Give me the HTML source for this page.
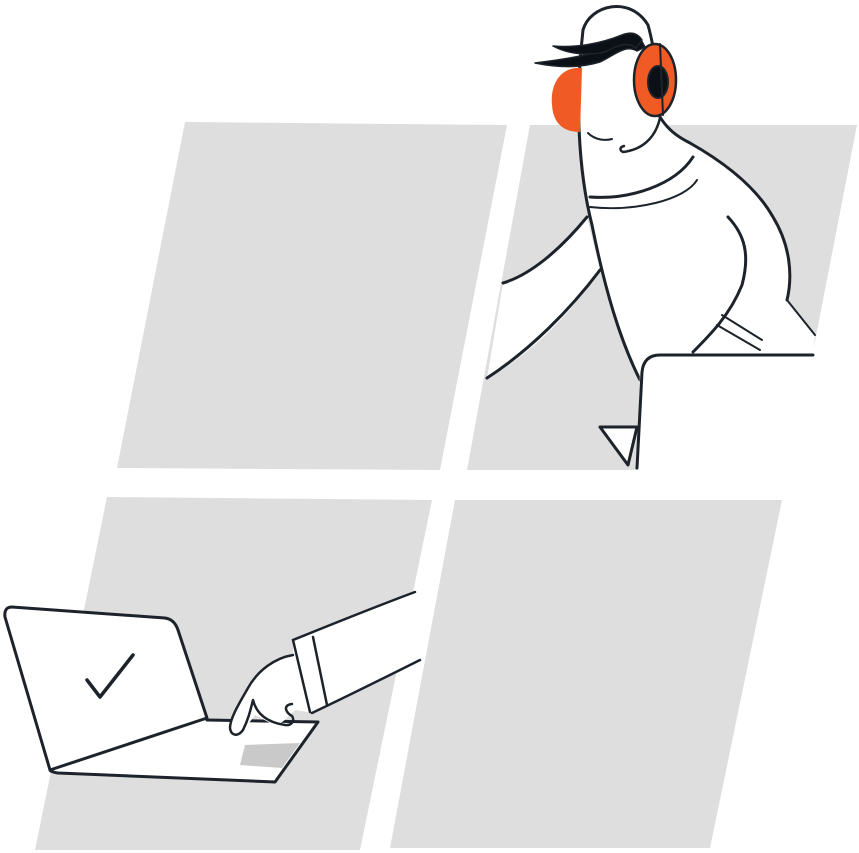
<!DOCTYPE html>
<html><head><style>html,body{margin:0;padding:0;background:#fff}svg{display:block}</style></head>
<body>
<svg width="859" height="853" viewBox="0 0 859 853" xmlns="http://www.w3.org/2000/svg">
<g fill="#dedede">
<polygon points="185,122 507,125 440,470 117,468"/>
<polygon points="530,125 857,125 790,470 467,470"/>
<polygon points="107,497 432,500 360,850 35,850"/>
<polygon points="455,500 782,500 710,848 390,848"/>
</g>
<g stroke="#1d232a" stroke-width="3" stroke-linecap="round" stroke-linejoin="round">
<path d="M587,217 C560,250 530,275 503,283 L487,378 C540,350 580,300 600,270 Z" fill="#fff" stroke="none"/>
<path d="M587,217 C560,250 530,275 503,283" fill="none"/>
<path d="M600,270 C570,310 530,350 487,378" fill="none"/>
<path d="M583,30 C590,5 630,-5 645,20 L660,117 C670,130 680,138 687,140 C710,155 750,180 773,217 C790,240 792,270 787,300 L815,335 L813,355 L653,355 L640,380 C620,330 600,280 590,213 C580,150 575,80 583,30 Z" fill="#fff" stroke="none"/>
<path d="M583,30 C590,5 630,-5 648,25 C655,50 660,90 660,117" fill="none"/>
<path d="M660,117 C668,130 678,137 690,143 C720,160 755,185 773,217 C790,245 793,275 787,300" fill="none"/>
<path d="M787,300 L815,335" fill="none" stroke-width="2"/>
<path d="M583,30 C575,100 578,170 592,225 C605,290 620,340 640,380" fill="none"/>
<path d="M728,217 C745,235 750,255 742,285 C730,315 710,335 693,352" fill="none"/>
<path d="M717,325 L760,350 M722,315 L762,340" fill="none" stroke-width="2"/>
<path d="M590,197 C630,200 675,185 693,157" fill="none"/>
<path d="M590,207 C635,212 685,200 697,180" fill="none" stroke-width="2"/>
<path d="M588,133 C595,140 605,141 612,139" fill="none" stroke-width="2"/>
<path d="M660,118 C655,140 640,150 623,152 C619,150 620,147 624,146" fill="none" stroke-width="2.5"/>
<path d="M582,68 C560,66 550,85 552,105 C553,122 562,132 580,132 Z" fill="#f05a24" stroke="none"/>
<ellipse cx="655" cy="80" rx="21" ry="36" fill="#f05a24" stroke-width="2.5"/>
<ellipse cx="658" cy="82" rx="10" ry="16" fill="#0b1016" stroke-width="2"/>
<path d="M660,44 L663,115" fill="none" stroke-width="2"/>
<path d="M535,63 C560,60 585,56 605,50 C620,46 630,40 640,38 L645,47 L637,51 C625,44 615,55 600,62 C580,68 560,68 535,63 Z" fill="#0b1016" stroke-width="1.5"/>
<path d="M553,46 C575,48 600,44 622,35 C630,32 637,32 642,40 L636,48 C628,42 620,44 605,52 C585,56 568,54 553,46 Z" fill="#0b1016" stroke-width="1.5"/>
<path d="M653,355 L813,355 L800,470 L637,470 L640,370 Z" fill="#fff" stroke="none"/>
<path d="M813,355 L660,355 C648,355 643,362 642,372 L637,468" fill="none"/>
<path d="M600,427 L637,427 L628,465 Z" fill="#fff"/>
<path d="M5,607 L165,618 C172,619 176,625 178,630 L207,720 L318,722 L275,782 L55,773 C48,770 46,765 45,760 Z" fill="#fff" stroke="none"/>
<path d="M12,607 L165,618 C172,619 176,624 178,630 L207,718 L50,770 L5,617 C4,610 7,607 12,607 Z" fill="none"/>
<path d="M207,720 L318,722 L275,782 L58,773 C52,772 50,771 50,770" fill="none"/>
<path d="M245,745 L300,743 L282,768 L240,765 Z" fill="#c9c9c9" stroke="none"/>
<path d="M87,680 L100,697 L133,655" fill="none" stroke-width="3.5"/>
<path d="M293,640 L415,592 L420,660 L312,713 L296,710 C290,712 282,728 272,724 L255,715 L240,735 C232,740 228,735 230,725 C235,705 250,685 262,672 C272,662 283,656 293,655 Z" fill="#fff" stroke="none"/>
<path d="M293,640 C330,625 380,605 415,592" fill="none" stroke-width="2.5"/>
<path d="M312,713 C350,695 390,675 420,660" fill="none" stroke-width="2.5"/>
<path d="M293,640 L310,712 M313,637 L327,705" fill="none" stroke-width="2.5"/>
<path d="M293,655 C275,658 258,670 248,688 C240,702 230,718 230,728 C231,736 238,737 243,730 C248,720 250,712 253,700 C256,712 265,722 285,725 C292,726 295,720 292,716 C285,712 283,705 292,704" fill="none" stroke-width="2.5"/>
</g>
</svg>
</body></html>
